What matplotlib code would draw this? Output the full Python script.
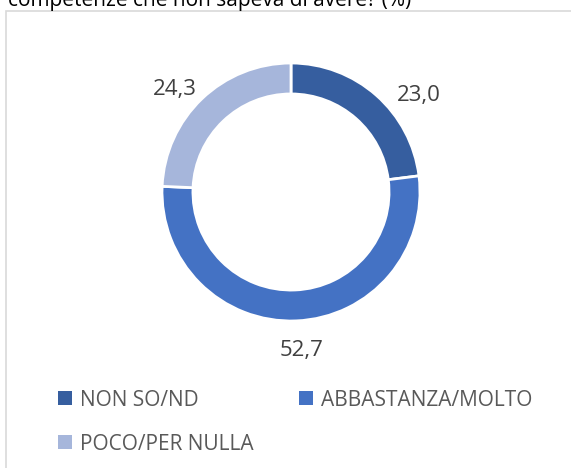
import matplotlib
matplotlib.use("Agg")
import matplotlib.pyplot as plt
import numpy as np
from matplotlib.patches import Rectangle

categories = ["NON SO/ND", "ABBASTANZA/MOLTO", "POCO/PER NULLA"]
values = [23.0, 52.7, 24.3]
labels = ["23,0", "52,7", "24,3"]
colors = ["#365E9F", "#4472C4", "#A6B6DB"]
title = "competenze che non sapeva di avere? (%)"

W, H = 571, 468
fig = plt.figure(figsize=(W / 100, H / 100), dpi=100)
fig.patch.set_facecolor("white")
font = "Open Sans"

def fx(px):
    return px / W

def fy(py):
    return 1 - py / H

# chart border (partial, extends beyond image)
fig.patches.append(Rectangle((fx(6), -0.05), 1.2, fy(11) + 0.05,
                             transform=fig.transFigure, fill=False,
                             edgecolor="#D9D9D9", linewidth=1.2))
fig.text(fx(8), fy(6), title, fontsize=15, family=font, color="#000000",
         va="baseline", ha="left")

cx, cy, R = 291, 192, 129
ax = fig.add_axes([fx(cx - R), fy(cy + R), 2 * R / W, 2 * R / H])
wedges, _ = ax.pie(values, colors=colors, startangle=90, counterclock=False,
                   radius=1.0, wedgeprops=dict(width=0.24, edgecolor="white", linewidth=2))
ax.set_xlim(-1, 1)
ax.set_ylim(-1, 1)
ax.set_aspect("equal")
ax.axis("off")

label_style = [(1.24, -11.7), (1.235, 1.3), (1.20, 4.9)]
for w, lab, (r, da) in zip(wedges, labels, label_style):
    ang = np.deg2rad((w.theta1 + w.theta2) / 2 + da)
    ax.text(r * np.cos(ang), r * np.sin(ang), lab, ha="center", va="center",
            fontsize=16, family=font, color="#404040", clip_on=False)

# legend (Excel-like flow layout)
legend_pos = [(58, 398), (299, 398), (58, 442)]
sq = 14
for (lx, ly), cat, col in zip(legend_pos, categories, colors):
    fig.patches.append(Rectangle((fx(lx), fy(ly + sq / 2)), sq / W, sq / H,
                                 transform=fig.transFigure, facecolor=col,
                                 edgecolor="none"))
    fig.text(fx(lx + 22), fy(ly), cat, fontsize=15, family=font,
             color="#595959", va="center_baseline", ha="left")

fig.savefig("out.png", dpi=100)
